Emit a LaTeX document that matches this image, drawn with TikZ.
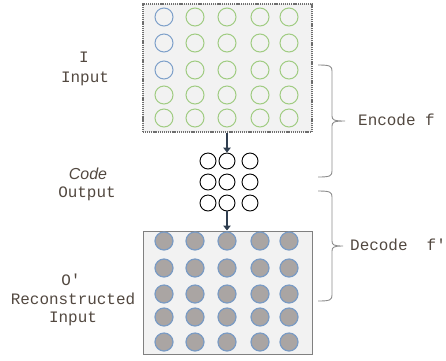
\documentclass[tikz,border=0pt]{standalone}
\usepackage{fontspec}
\setmonofont{Liberation Mono}
\newfontfamily\codefont{Liberation Sans}
\usetikzlibrary{arrows.meta}

\definecolor{txtc}{RGB}{82,72,64}
\definecolor{panelbg}{RGB}{242,242,242}
\definecolor{panelrule}{RGB}{110,110,110}
\definecolor{boxrule}{RGB}{128,128,128}
\definecolor{inblue}{RGB}{126,160,202}
\definecolor{ingreen}{RGB}{160,204,130}
\definecolor{outfill}{RGB}{170,165,163}
\definecolor{outrule}{RGB}{122,155,196}
\definecolor{arrowc}{RGB}{48,62,80}
\definecolor{bracec}{RGB}{140,140,140}

\begin{document}
\begin{tikzpicture}[x=1bp,y=-1bp,
  lbl/.style={font=\fontsize{16}{19}\selectfont\ttfamily, text=txtc, inner sep=0pt,
              text height=11bp, text depth=3bp},
  codelbl/.style={lbl, font=\fontsize{16}{19}\selectfont\codefont\itshape},
  inpanel/.style={draw=panelrule, fill=panelbg, line width=1.4bp,
                  dash pattern=on 1.1bp off 0.8bp, minimum width=169bp, minimum height=128bp, inner sep=0pt},
  outpanel/.style={draw=boxrule, fill=panelbg, line width=1bp,
                   minimum width=169bp, minimum height=123bp, inner sep=0pt},
  unit/.style={circle, minimum size=18bp, inner sep=0pt, line width=1bp},
  inunitb/.style={unit, draw=inblue},
  inunitg/.style={unit, draw=ingreen},
  codeunit/.style={circle, minimum size=16bp, inner sep=0pt, draw=black, line width=0.9bp, fill=white},
  outunit/.style={unit, draw=outrule, fill=outfill, line width=1.2bp},
  flow/.style={draw=arrowc, line width=2.6bp, -{Triangle[length=5bp,width=7.5bp]}},
  bracket/.style={draw=bracec, line width=0.9bp}
]
\useasboundingbox (0,0) rectangle (446,360);

% panels
\node[inpanel] (inbox) at (227.5,68) {};
\node[outpanel] (outbox) at (227.5,292.5) {};

% input layer (5 x 5)
\foreach \c/\x in {1/164,2/195,3/227,4/260,5/289}{
  \foreach \r/\y in {1/17,2/43,3/70,4/95,5/118}{
    \pgfmathtruncatemacro{\isblue}{(\c==1 && \r<4) ? 1 : 0}
    \ifnum\isblue=1
      \node[inunitb] (in\r\c) at (\x,\y) {};
    \else
      \node[inunitg] (in\r\c) at (\x,\y) {};
    \fi
  }
}

% code layer (3 x 3)
\foreach \c/\x in {1/208,2/227,3/250}{
  \foreach \r/\y in {1/161,2/182,3/203}{
    \node[codeunit] (cd\r\c) at (\x,\y) {};
  }
}

% reconstructed layer (5 x 5)
\foreach \c/\x in {1/164,2/195,3/227,4/260,5/289}{
  \foreach \r/\y in {1/241,2/268,3/294,4/317,5/342}{
    \node[outunit] (out\r\c) at (\x,\y) {};
  }
}

% data flow
\draw[flow] (inbox.south -| cd12) -- (cd12.north);
\draw[flow] (cd32.south) -- (outbox.north -| cd32);

% braces
\draw[bracket] (318,65) .. controls (330,65) and (332,66) .. (332,71) -- (332,116)
  .. controls (332,120) and (334,121) .. (345,121)
  .. controls (334,121) and (332,122) .. (332,126) -- (332,171)
  .. controls (332,176) and (330,177) .. (318,177);
\draw[bracket] (318,191) .. controls (330,191) and (332,192) .. (332,197) -- (332,241)
  .. controls (332,245) and (334,246) .. (343,246)
  .. controls (334,246) and (332,247) .. (332,251) -- (332,295)
  .. controls (332,300) and (330,301) .. (318,301);

% labels
\node[lbl] (iname) at (84,58) {I};
\node[lbl] (itext) at (85,78) {Input};
\node[codelbl] (cname) at (88,175) {Code};
\node[lbl] (ctext) at (87,193) {Output};
\node[lbl] (oname) at (71,281) {O\textquotesingle};
\node[lbl] (otext1) at (73,300) {Reconstructed};
\node[lbl] (otext2) at (73,318) {Input};
\node[lbl, anchor=west] (enc) at (358,121) {Encode f};
\node[lbl, anchor=west] (dec) at (350,246) {Decode~~f\textquotesingle};
\end{tikzpicture}
\end{document}
